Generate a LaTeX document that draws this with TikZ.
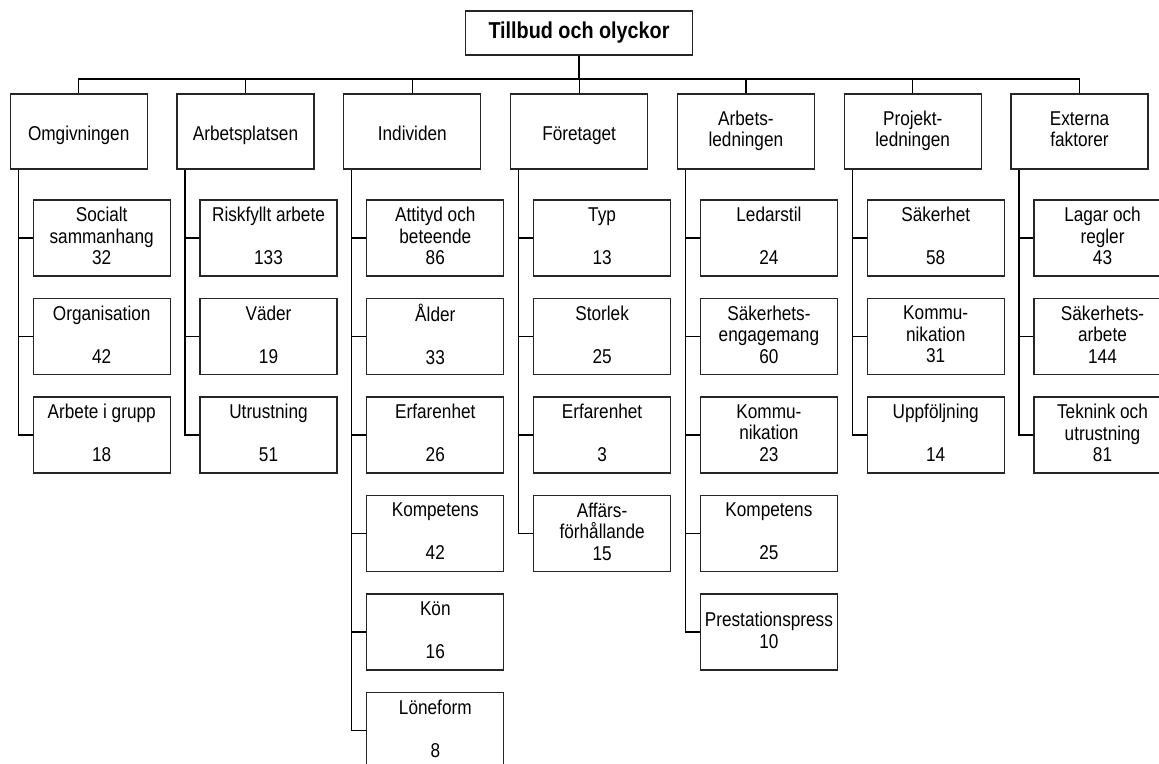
\documentclass[tikz,border=0pt]{standalone}
\usepackage{fontspec}
\setmainfont[FakeStretch=0.86]{Liberation Sans}
\usepackage{tikz}

\begin{document}
\begin{tikzpicture}[x=1pt, y=-1pt,
  rootbox/.style={draw=black!85, line width=1.2pt, minimum width=227pt, minimum height=44pt, inner sep=0pt, font=\fontsize{23}{25}\selectfont\bfseries},
  catbox/.style={draw=black!85, line width=1.2pt, minimum width=137pt, minimum height=75pt, inner sep=0pt, align=center, font=\fontsize{20}{21.5}\selectfont, execute at begin node=\rule{0pt}{22pt}, execute at end node=\rule[-5pt]{0pt}{5pt}},
  itembox/.style={draw=black!85, line width=1.2pt, minimum width=137pt, minimum height=76pt, inner sep=0pt, align=center, font=\fontsize{20}{21.5}\selectfont, execute at begin node=\rule{0pt}{25pt}, execute at end node=\rule[-4pt]{0pt}{4pt}},
  link/.style={draw=black, line width=1.2pt}]
\clip (0,0) rectangle (1159,763);

\node[rootbox] (root) at (579,33) {Tillbud och olyckor};

\node[catbox] (om) at (78.7,131.5) {Omgivningen};
\node[catbox] (ap) at (245.5,131.5) {Arbetsplatsen};
\node[catbox] (ind) at (412.3,131.5) {Individen};
\node[catbox] (ft) at (579.1,131.5) {Företaget};
\node[catbox] (al) at (745.9,131.5) {Arbets-\\ledningen};
\node[catbox] (pl) at (912.7,131.5) {Projekt-\\ledningen};
\node[catbox] (ef) at (1079.5,131.5) {Externa\\faktorer};

\node[itembox] (om1) at (101.7,238) {Socialt\\sammanhang\\32};
\node[itembox] (om2) at (101.7,336.5) {Organisation\\~\\42};
\node[itembox] (om3) at (101.7,435) {Arbete i grupp\\~\\18};

\node[itembox] (ap1) at (268.5,238) {Riskfyllt arbete\\~\\133};
\node[itembox] (ap2) at (268.5,336.5) {Väder\\~\\19};
\node[itembox] (ap3) at (268.5,435) {Utrustning\\~\\51};

\node[itembox] (ind1) at (435.3,238) {Attityd och\\beteende\\86};
\node[itembox] (ind2) at (435.3,336.5) {Ålder\\~\\33};
\node[itembox] (ind3) at (435.3,435) {Erfarenhet\\~\\26};
\node[itembox] (ind4) at (435.3,533.5) {Kompetens\\~\\42};
\node[itembox] (ind5) at (435.3,632) {Kön\\~\\16};
\node[itembox] (ind6) at (435.3,730.5) {Löneform\\~\\8};

\node[itembox] (ft1) at (602.1,238) {Typ\\~\\13};
\node[itembox] (ft2) at (602.1,336.5) {Storlek\\~\\25};
\node[itembox] (ft3) at (602.1,435) {Erfarenhet\\~\\3};
\node[itembox] (ft4) at (602.1,533.5) {Affärs-\\förhållande\\15};

\node[itembox] (al1) at (768.9,238) {Ledarstil\\~\\24};
\node[itembox] (al2) at (768.9,336.5) {Säkerhets-\\engagemang\\60};
\node[itembox] (al3) at (768.9,435) {Kommu-\\nikation\\23};
\node[itembox] (al4) at (768.9,533.5) {Kompetens\\~\\25};
\node[itembox] (al5) at (768.9,632) {Prestationspress\\10};

\node[itembox] (pl1) at (935.7,238) {Säkerhet\\~\\58};
\node[itembox] (pl2) at (935.7,336.5) {Kommu-\\nikation\\31};
\node[itembox] (pl3) at (935.7,435) {Uppföljning\\~\\14};

\node[itembox] (ef1) at (1102.5,238) {Lagar och\\regler\\43};
\node[itembox] (ef2) at (1102.5,336.5) {Säkerhets-\\arbete\\144};
\node[itembox] (ef3) at (1102.5,435) {Teknink och\\utrustning\\81};

\coordinate (bus) at (579,79);
\draw[link] (root.south) -- (bus);
\draw[link] (bus) -| (om.north);
\draw[link] (bus) -| (ap.north);
\draw[link] (bus) -| (ind.north);
\draw[link] (bus) -| (ft.north);
\draw[link] (bus) -| (al.north);
\draw[link] (bus) -| (pl.north);
\draw[link] (bus) -| (ef.north);

\draw[link] ([xshift=8.5]om.south west) |- (om1.west) ([xshift=8.5]om.south west) |- (om2.west) ([xshift=8.5]om.south west) |- (om3.west);
\draw[link] ([xshift=8.5]ap.south west) |- (ap1.west) ([xshift=8.5]ap.south west) |- (ap2.west) ([xshift=8.5]ap.south west) |- (ap3.west);
\draw[link] ([xshift=8.5]ind.south west) |- (ind1.west) ([xshift=8.5]ind.south west) |- (ind2.west) ([xshift=8.5]ind.south west) |- (ind3.west);
\draw[link] ([xshift=8.5]ind.south west) |- (ind4.west) ([xshift=8.5]ind.south west) |- (ind5.west) ([xshift=8.5]ind.south west) |- (ind6.west);
\draw[link] ([xshift=8.5]ft.south west) |- (ft1.west) ([xshift=8.5]ft.south west) |- (ft2.west) ([xshift=8.5]ft.south west) |- (ft3.west) ([xshift=8.5]ft.south west) |- (ft4.west);
\draw[link] ([xshift=8.5]al.south west) |- (al1.west) ([xshift=8.5]al.south west) |- (al2.west) ([xshift=8.5]al.south west) |- (al3.west);
\draw[link] ([xshift=8.5]al.south west) |- (al4.west) ([xshift=8.5]al.south west) |- (al5.west);
\draw[link] ([xshift=8.5]pl.south west) |- (pl1.west) ([xshift=8.5]pl.south west) |- (pl2.west) ([xshift=8.5]pl.south west) |- (pl3.west);
\draw[link] ([xshift=8.5]ef.south west) |- (ef1.west) ([xshift=8.5]ef.south west) |- (ef2.west) ([xshift=8.5]ef.south west) |- (ef3.west);
\end{tikzpicture}
\end{document}
